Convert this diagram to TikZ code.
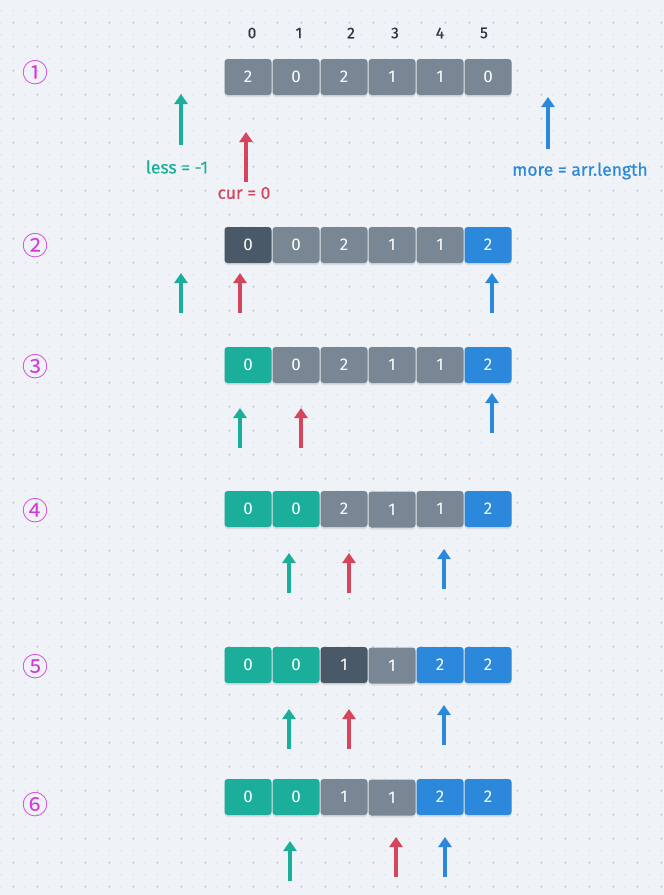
\documentclass[tikz,border=0pt]{standalone}
\usepackage{fontspec}
\setmainfont{Fira Sans}
\newfontfamily\medfont[FakeBold=0.6]{Fira Sans}
\newfontfamily\circfont{Noto Sans CJK SC}
\usetikzlibrary{shadows,arrows.meta}
\definecolor{bgc}{HTML}{EFF2F6}
\definecolor{dotc}{HTML}{C3C9D3}
\definecolor{dotl}{HTML}{DDE1E8}
\definecolor{cgray}{HTML}{798794}
\definecolor{cdark}{HTML}{4A5968}
\definecolor{cteal}{HTML}{1BAE9A}
\definecolor{cblue}{HTML}{2B88DB}
\definecolor{cred}{HTML}{D5455C}
\definecolor{cmag}{HTML}{D23AD8}
\definecolor{idxc}{HTML}{2E3640}
\tikzset{
  cell/.style={rounded corners=3pt, minimum width=47pt, minimum height=36pt, inner sep=0pt,
    text=white, font=\fontsize{17}{17}\selectfont,
    drop shadow={opacity=0.18, shadow xshift=0pt, shadow yshift=-2pt}},
  g/.style={cell, fill=cgray},
  d/.style={cell, fill=cdark},
  t/.style={cell, fill=cteal},
  b/.style={cell, fill=cblue},
  idx/.style={text=idxc, font=\medfont\fontsize{15.5}{15.5}\selectfont},
  stepnum/.style={text=cmag, font=\circfont\fontsize{26}{26}\selectfont},
  ptr/.style={line width=3.6pt, -{Triangle[width=13pt,length=10pt]}},
  lbl/.style={font=\medfont\fontsize{17.5}{17.5}\selectfont}
}
\begin{document}
\begin{tikzpicture}[x=1pt,y=-1pt]
\useasboundingbox (0,0) rectangle (664,895);
\fill[bgc] (0,0) rectangle (664,895);
% dot grid
\foreach \i in {0,...,55}{
  \foreach \j in {0,...,74}{
    \fill[dotl] ({1.3+12*\i},{10.7+12*\j}) circle (0.9pt);
  }
}
\foreach \i in {0,...,27}{
  \foreach \j in {0,...,36}{
    \fill[dotc] ({13.3+24*\i},{22.7+24*\j}) circle (1pt);
  }
}
% index labels
\node[idx] (i0) at (252,33) {0};
\node[idx] (i1) at (299,33) {1};
\node[idx] (i2) at (351,33) {2};
\node[idx] (i3) at (395,33) {3};
\node[idx] (i4) at (440,33) {4};
\node[idx] (i5) at (484,33) {5};
% step numbers
\node[stepnum] (s1) at (36,73) {①};
\node[stepnum] (s2) at (36,246) {②};
\node[stepnum] (s3) at (36,367) {③};
\node[stepnum] (s4) at (36,511) {④};
\node[stepnum] (s5) at (36,667) {⑤};
\node[stepnum] (s6) at (36,805) {⑥};
% row 1
\node[g] (a0) at (248,77) {2};
\node[g] (a1) at (296,77) {0};
\node[g] (a2) at (344,77) {2};
\node[g] (a3) at (392,77) {1};
\node[g] (a4) at (440,77) {1};
\node[g] (a5) at (488,77) {0};
% row 2
\node[d] (b0) at (248,245) {0};
\node[g] (b1) at (296,245) {0};
\node[g] (b2) at (344,245) {2};
\node[g] (b3) at (392,245) {1};
\node[g] (b4) at (440,245) {1};
\node[b] (b5) at (488,245) {2};
% row 3
\node[t] (c0) at (248,365) {0};
\node[g] (c1) at (296,365) {0};
\node[g] (c2) at (344,365) {2};
\node[g] (c3) at (392,365) {1};
\node[g] (c4) at (440,365) {1};
\node[b] (c5) at (488,365) {2};
% row 4
\node[t] (e0) at (248,509) {0};
\node[t] (e1) at (296,509) {0};
\node[g] (e2) at (344,509) {2};
\node[g] (e3) at (392,509.5) {1};
\node[g] (e4) at (440,509) {1};
\node[b] (e5) at (488,509) {2};
% row 5
\node[t] (f0) at (248,665) {0};
\node[t] (f1) at (296,665) {0};
\node[d] (f2) at (344,665) {1};
\node[g] (f3) at (392,665.5) {1};
\node[b] (f4) at (440,665) {2};
\node[b] (f5) at (488,665) {2};
% row 6
\node[t] (h0) at (248,797) {0};
\node[t] (h1) at (296,797) {0};
\node[g] (h2) at (344,797) {1};
\node[g] (h3) at (392,797.5) {1};
\node[b] (h4) at (440,797) {2};
\node[b] (h5) at (488,797) {2};
% row 1 pointers
\coordinate (l1a) at (181,145); \coordinate (l1b) at (181,94);
\coordinate (c1a) at (246,182); \coordinate (c1b) at (246,132);
\coordinate (m1a) at (548,149); \coordinate (m1b) at (548,97);
\draw[ptr, cteal] (l1a) -- (l1b);
\draw[ptr, cred] (c1a) -- (c1b);
\draw[ptr, cblue] (m1a) -- (m1b);
\node[lbl, text=cteal] (lessl) at (177,167) {less = -1};
\node[lbl, text=cred] (curl) at (244,193) {cur = 0};
\node[lbl, text=cblue] (morel) at (580,171) {more = arr.length};
% row 2
\coordinate (l2a) at (181,313); \coordinate (l2b) at (181,273);
\coordinate (c2a) at (240,313); \coordinate (c2b) at (240,273);
\coordinate (m2a) at (492,313); \coordinate (m2b) at (492,273);
\draw[ptr, cteal] (l2a) -- (l2b);
\draw[ptr, cred] (c2a) -- (c2b);
\draw[ptr, cblue] (m2a) -- (m2b);
% row 3
\coordinate (l3a) at (240,448); \coordinate (l3b) at (240,408);
\coordinate (c3a) at (301,448); \coordinate (c3b) at (301,408);
\coordinate (m3a) at (492,433); \coordinate (m3b) at (492,393);
\draw[ptr, cteal] (l3a) -- (l3b);
\draw[ptr, cred] (c3a) -- (c3b);
\draw[ptr, cblue] (m3a) -- (m3b);
% row 4
\coordinate (l4a) at (289,593); \coordinate (l4b) at (289,553);
\coordinate (c4a) at (349,593); \coordinate (c4b) at (349,553);
\coordinate (m4a) at (444,589); \coordinate (m4b) at (444,549);
\draw[ptr, cteal] (l4a) -- (l4b);
\draw[ptr, cred] (c4a) -- (c4b);
\draw[ptr, cblue] (m4a) -- (m4b);
% row 5
\coordinate (l5a) at (289,749); \coordinate (l5b) at (289,709);
\coordinate (c5a) at (349,749); \coordinate (c5b) at (349,709);
\coordinate (m5a) at (444,745); \coordinate (m5b) at (444,705);
\draw[ptr, cteal] (l5a) -- (l5b);
\draw[ptr, cred] (c5a) -- (c5b);
\draw[ptr, cblue] (m5a) -- (m5b);
% row 6
\coordinate (l6a) at (290,881); \coordinate (l6b) at (290,841);
\coordinate (c6a) at (396,877); \coordinate (c6b) at (396,837);
\coordinate (m6a) at (445,877); \coordinate (m6b) at (445,837);
\draw[ptr, cteal] (l6a) -- (l6b);
\draw[ptr, cred] (c6a) -- (c6b);
\draw[ptr, cblue] (m6a) -- (m6b);
\end{tikzpicture}
\end{document}
